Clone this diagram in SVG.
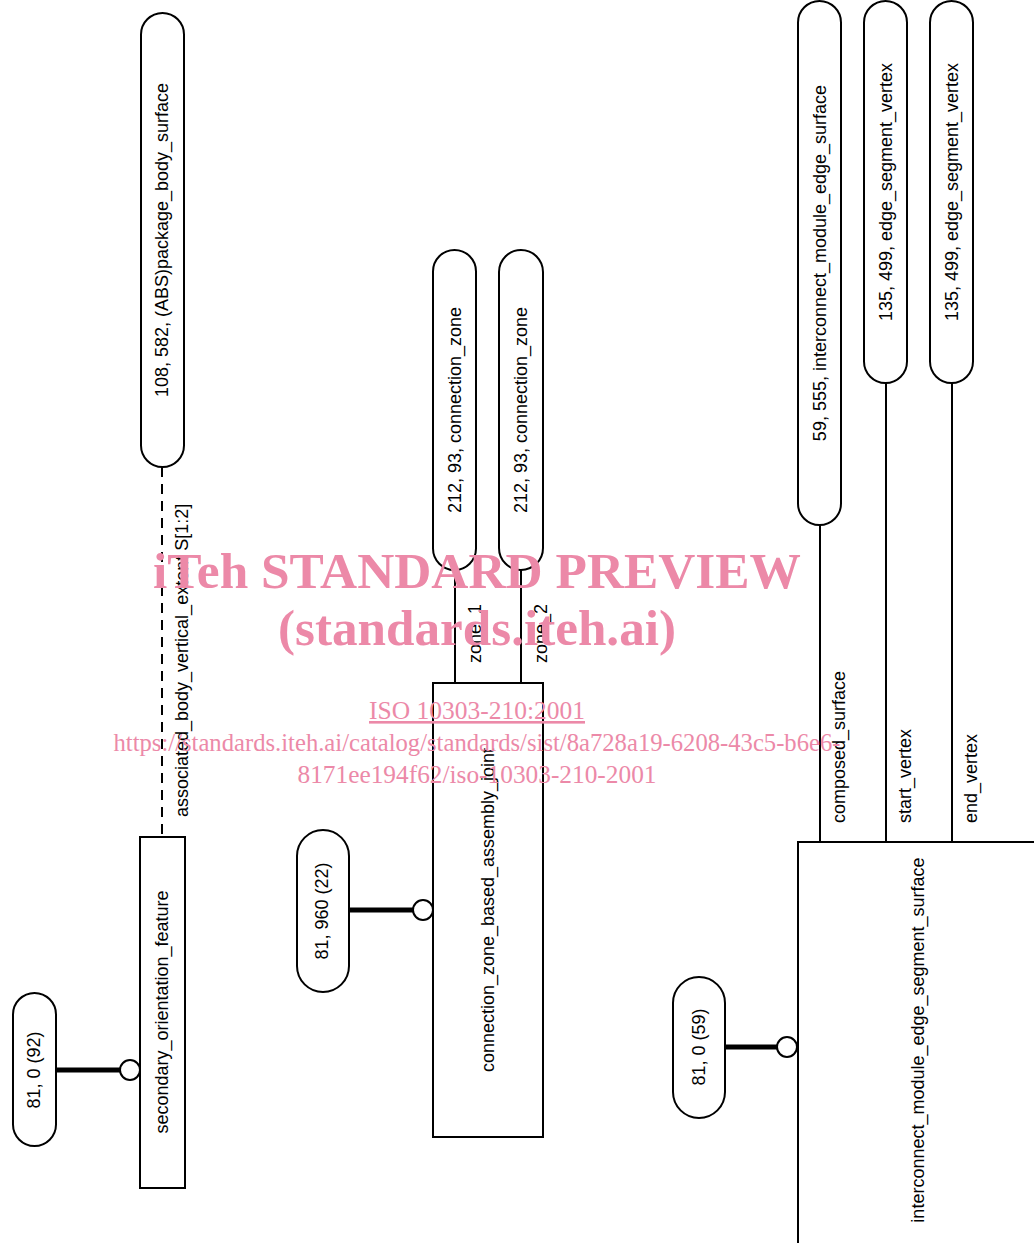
<svg xmlns="http://www.w3.org/2000/svg" width="1034" height="1243" viewBox="0 0 1034 1243">
<style>
.b{fill:#fff;stroke:#000;stroke-width:2}
.t{font-family:"Liberation Sans",Arial,sans-serif;font-size:18px;fill:#000}
.c{text-anchor:middle}
.ln{stroke:#000;stroke-width:2;fill:none}
.th{stroke:#000;stroke-width:5;fill:none}
.wm{font-family:"Liberation Serif","Times New Roman",serif;fill:#ec89a8;text-anchor:middle}
</style>
<rect width="1034" height="1243" fill="#fff"/>
<g id="connectors">
<line class="th" x1="56" y1="1070" x2="121" y2="1070"/>
<circle class="b" cx="130" cy="1070" r="10"/>
<line class="ln" x1="162" y1="467" x2="162" y2="837" stroke-dasharray="10,7"/>
<line class="th" x1="349" y1="910" x2="414" y2="910"/>
<circle class="b" cx="423" cy="910" r="10"/>
<line class="ln" x1="455" y1="570" x2="455" y2="683"/>
<line class="ln" x1="521" y1="570" x2="521" y2="683"/>
<line class="th" x1="725" y1="1047" x2="778" y2="1047"/>
<circle class="b" cx="787" cy="1047" r="10"/>
<line class="ln" x1="820" y1="525" x2="820" y2="842"/>
<line class="ln" x1="886" y1="383" x2="886" y2="842"/>
<line class="ln" x1="952" y1="383" x2="952" y2="842"/>
<text class="t" transform="translate(182,817) rotate(-90)" dy="0.35em">associated_body_vertical_extent S[1:2]</text>
<text class="t" transform="translate(475,663) rotate(-90)" dy="0.35em">zone_1</text>
<text class="t" transform="translate(541,663) rotate(-90)" dy="0.35em">zone_2</text>
<text class="t" transform="translate(839,823) rotate(-90)" dy="0.35em">composed_surface</text>
<text class="t" transform="translate(905,823) rotate(-90)" dy="0.35em">start_vertex</text>
<text class="t" transform="translate(971,823) rotate(-90)" dy="0.35em">end_vertex</text>
</g>
<g id="n_81_0_92">
<rect class="b" x="13" y="993" width="43" height="153" rx="21.5"/>
<text class="t c" transform="translate(34,1070) rotate(-90)" dy="0.35em">81, 0 (92)</text>
</g>
<g id="n_secondary_orientation_feature">
<rect class="b" x="140" y="837" width="45" height="351"/>
<text class="t c" transform="translate(162,1012) rotate(-90)" dy="0.35em">secondary_orientation_feature</text>
</g>
<g id="n_package_body_surface">
<rect class="b" x="141" y="13" width="43" height="454" rx="21.5"/>
<text class="t c" transform="translate(162,240) rotate(-90)" dy="0.35em">108, 582, (ABS)package_body_surface</text>
</g>
<g id="n_81_960_22">
<rect class="b" x="297" y="830" width="52" height="162" rx="26"/>
<text class="t c" transform="translate(322,911) rotate(-90)" dy="0.35em">81, 960 (22)</text>
</g>
<g id="n_connection_zone_based_assembly_joint">
<rect class="b" x="433" y="683" width="110" height="454"/>
<text class="t c" transform="translate(488,910) rotate(-90)" dy="0.35em">connection_zone_based_assembly_joint</text>
</g>
<g id="n_connection_zone_1">
<rect class="b" x="433" y="250" width="43" height="320" rx="21.5"/>
<text class="t c" transform="translate(455,410) rotate(-90)" dy="0.35em">212, 93, connection_zone</text>
</g>
<g id="n_connection_zone_2">
<rect class="b" x="499" y="250" width="44" height="320" rx="22"/>
<text class="t c" transform="translate(521,410) rotate(-90)" dy="0.35em">212, 93, connection_zone</text>
</g>
<g id="n_interconnect_module_edge_surface">
<rect class="b" x="798" y="1" width="43" height="524" rx="21.5"/>
<text class="t c" transform="translate(820,263) rotate(-90)" dy="0.35em">59, 555, interconnect_module_edge_surface</text>
</g>
<g id="n_edge_segment_vertex_1">
<rect class="b" x="864" y="1" width="43" height="382" rx="21.5"/>
<text class="t c" transform="translate(886,192) rotate(-90)" dy="0.35em">135, 499, edge_segment_vertex</text>
</g>
<g id="n_edge_segment_vertex_2">
<rect class="b" x="930" y="1" width="43" height="382" rx="21.5"/>
<text class="t c" transform="translate(952,192) rotate(-90)" dy="0.35em">135, 499, edge_segment_vertex</text>
</g>
<g id="n_interconnect_module_edge_segment_surface">
<rect class="b" x="798" y="842" width="260" height="420"/>
<text class="t c" transform="translate(918,1040) rotate(-90)" dy="0.35em">interconnect_module_edge_segment_surface</text>
</g>
<g id="n_81_0_59">
<rect class="b" x="673" y="977" width="52" height="141" rx="26"/>
<text class="t c" transform="translate(699,1047) rotate(-90)" dy="0.35em">81, 0 (59)</text>
</g>
<g id="watermark">
<text class="wm" x="477" y="588" font-size="50" font-weight="bold" textLength="648" lengthAdjust="spacingAndGlyphs">iTeh STANDARD PREVIEW</text>
<text class="wm" x="477" y="645" font-size="50" font-weight="bold" textLength="398" lengthAdjust="spacingAndGlyphs">(standards.iteh.ai)</text>
<text class="wm" x="477" y="719" font-size="26" text-decoration="underline" textLength="216" lengthAdjust="spacingAndGlyphs">ISO 10303-210:2001</text>
<text class="wm" x="477" y="751" font-size="26" textLength="727" lengthAdjust="spacingAndGlyphs">https://standards.iteh.ai/catalog/standards/sist/8a728a19-6208-43c5-b6e6-</text>
<text class="wm" x="477" y="783" font-size="26" textLength="359" lengthAdjust="spacingAndGlyphs">8171ee194f62/iso-10303-210-2001</text>
</g>
</svg>
